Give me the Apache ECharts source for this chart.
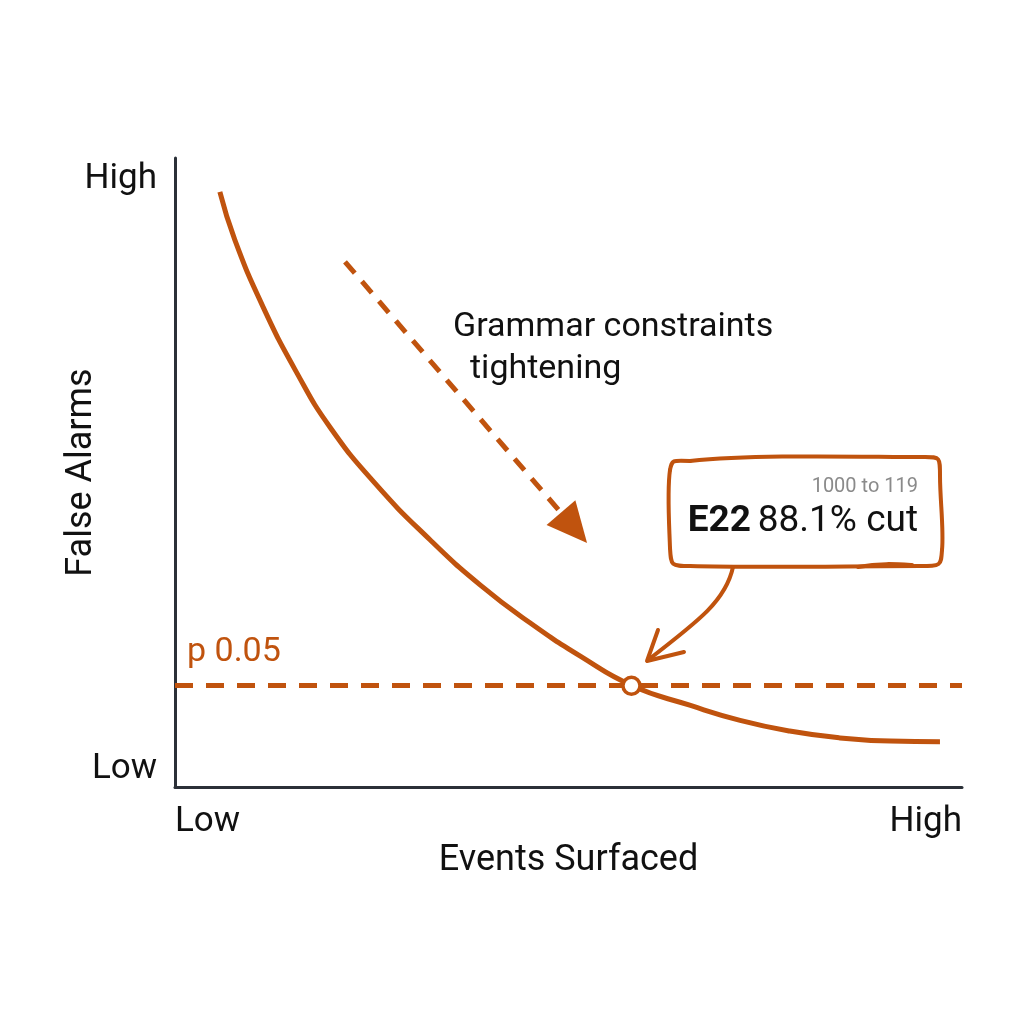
<!DOCTYPE html>
<html>
<head>
<meta charset="utf-8">
<script src="https://cdn.jsdelivr.net/npm/echarts@6/dist/echarts.min.js"></script>
<style>
  html, body { margin: 0; padding: 0; background: #fff; }
  #chart { width: 1024px; height: 1024px; }
</style>
</head>
<body>
<div id="chart"></div>
<script>
// trade-off curve: events surfaced vs false alarms
var curveX = [5.7, 7.6, 11.2, 15.5, 19.7, 25.4, 32.4, 38.8, 45.1, 51.5, 58.1, 65.4, 71.8, 78.1, 84.5, 90.9, 97.2];
var curveY = [94.6, 87.0, 76.3, 65.8, 57.2, 48.3, 39.3, 32.1, 26.1, 20.8, 16.1, 13.0, 10.6, 8.9, 7.8, 7.3, 7.2];
var thresholdY = 16.1;
var thresholdLabel = 'p 0.05';
var hitPoint = [58.0, 16.1];
var arrowFrom = [21.6, 83.5];
var arrowTo = [50.7, 41.2];
var axisLabelsY = ['Low', 'High'];
var axisLabelsX = ['Low', 'High'];

var orange = '#c0530e';
var ink = '#2b3038';
var font = 'Roboto';

var curve = curveX.map(function (x, i) { return [x, curveY[i]]; });

// hand drawn callout outline, pixel segments [x1,y1,cx1,cy1,cx2,cy2,x2,y2]
var boxSegs = [
    [690, 461, 760, 454, 860, 457, 925, 457],
    [925, 457, 940, 457, 940, 457, 940, 476],
    [940, 476, 940, 500, 944, 530, 942, 550],
    [942, 550, 941, 566, 941, 566, 920, 566],
    [920, 566, 850, 566, 760, 568, 690, 566],
    [690, 566, 671, 566, 671, 566, 670, 548],
    [670, 548, 669, 520, 667, 490, 670, 470],
    [670, 470, 672, 460, 672, 460, 690, 461],
    [858, 567, 880, 563, 895, 564, 912, 565],
    [733, 567, 726, 600, 700, 620, 648, 660]
];

var graphics = boxSegs.map(function (s) {
    return {
        type: 'bezierCurve', z: 10,
        shape: { x1: s[0], y1: s[1], cpx1: s[2], cpy1: s[3], cpx2: s[4], cpy2: s[5], x2: s[6], y2: s[7] },
        style: { stroke: orange, lineWidth: 4, fill: null, lineCap: 'round' }
    };
});

graphics.push(
    {
        type: 'polyline', z: 10,
        shape: { points: [[658, 630], [647, 661], [684, 652]] },
        style: { stroke: orange, lineWidth: 4, fill: null, lineCap: 'round', lineJoin: 'round' }
    },
    {
        type: 'text', left: 453, top: 310,
        style: { text: 'Grammar constraints', fontSize: 34, fontFamily: font, fill: '#111' }
    },
    {
        type: 'text', left: 470, top: 352,
        style: { text: 'tightening', fontSize: 34, fontFamily: font, fill: '#111' }
    },
    {
        type: 'text', right: 106, top: 477, z: 11,
        style: { text: '1000 to 119', fontSize: 20, fontFamily: font, fill: '#8a8a8a' }
    },
    {
        type: 'text', right: 106, top: 503, z: 11,
        style: {
            text: '{b|E22}  {n|88.1% cut}',
            rich: {
                b: { fontSize: 37, fontWeight: 'bold', fontFamily: font, fill: '#111' },
                n: { fontSize: 37, fontFamily: font, fill: '#111' }
            }
        }
    }
);

var myChart = echarts.init(document.getElementById('chart'));

myChart.setOption({
    animation: false,
    backgroundColor: '#fff',
    textStyle: { fontFamily: font },
    grid: { left: 175, right: 62, top: 158, bottom: 237 },
    xAxis: {
        type: 'value',
        min: 0, max: 100, interval: 100,
        name: 'Events Surfaced',
        nameLocation: 'middle',
        nameGap: 56,
        nameMoveOverlap: false,
        nameTextStyle: { fontSize: 36, color: '#111', fontFamily: font },
        axisLine: { lineStyle: { color: ink, width: 3 } },
        axisTick: { show: false },
        splitLine: { show: false },
        axisLabel: {
            fontSize: 35, color: '#111', margin: 18,
            alignMinLabel: 'left', alignMaxLabel: 'right',
            formatter: function (v) { return v === 0 ? axisLabelsX[0] : axisLabelsX[1]; }
        }
    },
    yAxis: {
        type: 'value',
        min: 0, max: 100, interval: 100,
        name: 'False Alarms',
        nameLocation: 'middle',
        nameGap: 75,
        nameMoveOverlap: false,
        nameTextStyle: { fontSize: 36, color: '#111', fontFamily: font },
        axisLine: { show: true, lineStyle: { color: ink, width: 3 } },
        axisTick: { show: false },
        splitLine: { show: false },
        axisLabel: {
            fontSize: 35, color: '#111', margin: 18,
            verticalAlignMinLabel: 'bottom', verticalAlignMaxLabel: 'top',
            formatter: function (v) {
                return v === 0 ? '{lo|' + axisLabelsY[0] + '}' : '{hi|' + axisLabelsY[1] + '}';
            },
            rich: {
                lo: { fontSize: 35, color: '#111' },
                hi: { fontSize: 35, color: '#111', padding: [4, 0, 0, 0] }
            }
        }
    },
    series: [
        {
            type: 'line',
            data: curve,
            smooth: 0.5,
            symbol: 'none',
            lineStyle: { color: orange, width: 5 },
            markLine: {
                silent: true,
                symbol: 'none',
                data: [
                    {
                        yAxis: thresholdY,
                        lineStyle: { color: orange, width: 5, type: [18, 13] },
                        label: {
                            show: true, position: 'insideStartTop', formatter: thresholdLabel,
                            color: orange, fontSize: 34, fontFamily: font, distance: [12, 16]
                        }
                    },
                    [
                        { coord: arrowFrom, symbol: 'none' },
                        {
                            coord: arrowTo, symbol: 'triangle', symbolSize: [38, 40],
                            lineStyle: { color: orange, width: 5, type: [15, 11] },
                            label: { show: false }
                        }
                    ]
                ],
                lineStyle: { color: orange, width: 5, type: [15, 11] },
                label: { show: false }
            }
        },
        {
            type: 'scatter',
            data: [hitPoint],
            symbol: 'circle',
            symbolSize: 17,
            z: 5,
            itemStyle: { color: '#fff', borderColor: orange, borderWidth: 3.5, opacity: 1 }
        }
    ],
    graphic: graphics
});
</script>
</body>
</html>
